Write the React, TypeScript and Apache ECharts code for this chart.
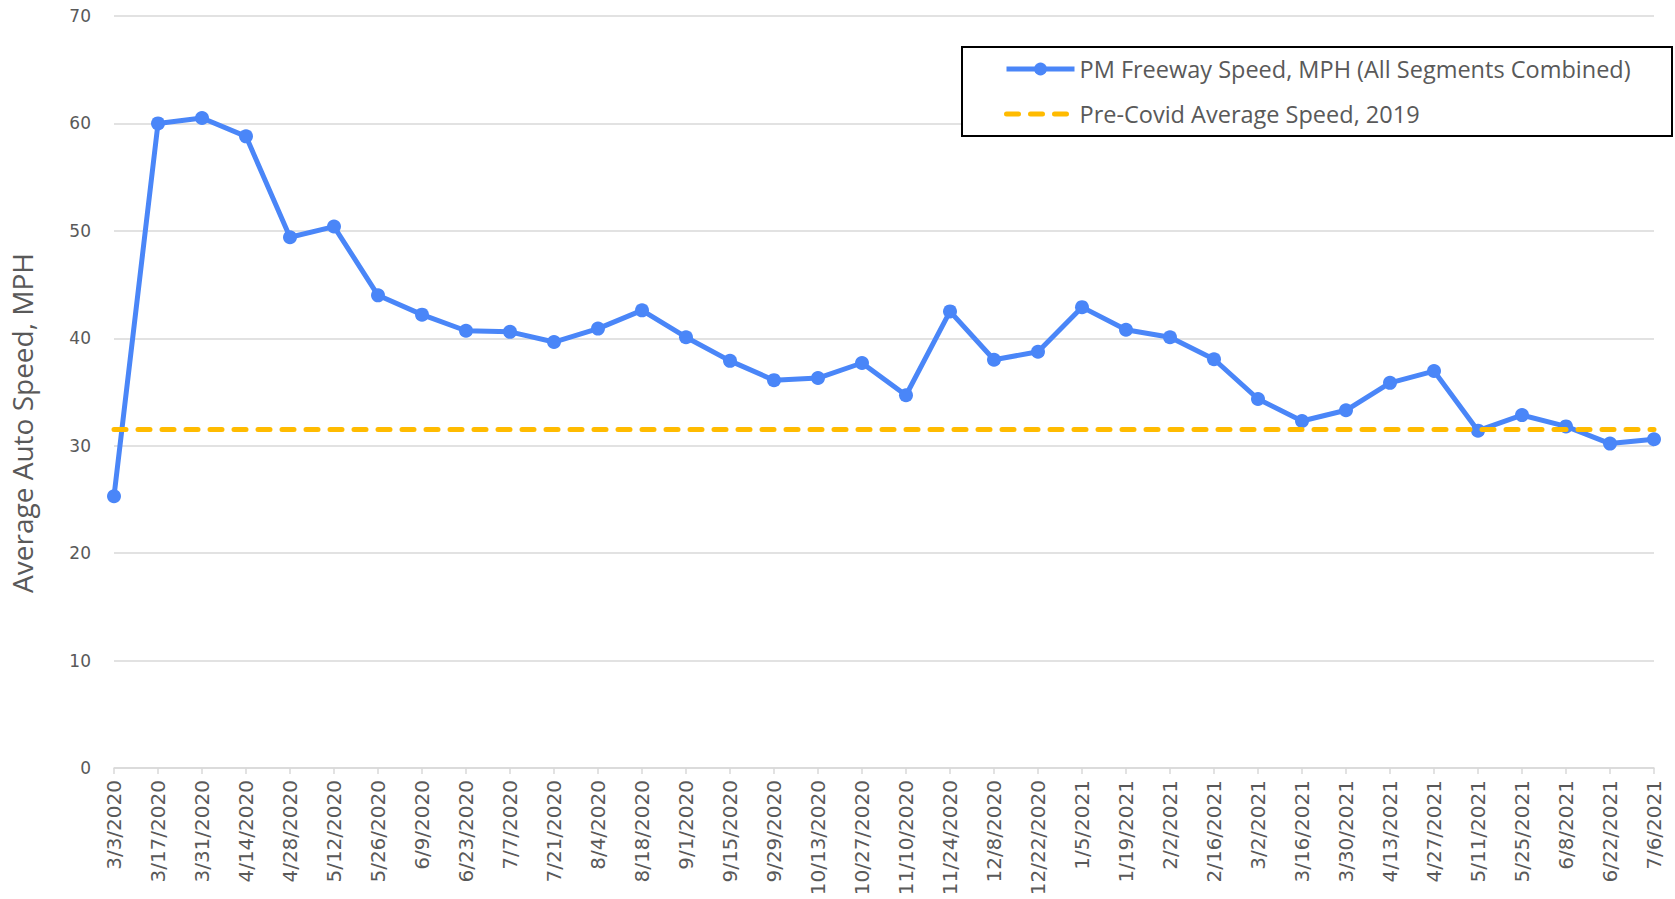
import React, { useEffect, useRef } from "react";
import * as echarts from "echarts";

const categories = [
  "3/3/2020", "3/17/2020", "3/31/2020", "4/14/2020", "4/28/2020", "5/12/2020",
  "5/26/2020", "6/9/2020", "6/23/2020", "7/7/2020", "7/21/2020", "8/4/2020",
  "8/18/2020", "9/1/2020", "9/15/2020", "9/29/2020", "10/13/2020", "10/27/2020",
  "11/10/2020", "11/24/2020", "12/8/2020", "12/22/2020", "1/5/2021", "1/19/2021",
  "2/2/2021", "2/16/2021", "3/2/2021", "3/16/2021", "3/30/2021", "4/13/2021",
  "4/27/2021", "5/11/2021", "5/25/2021", "6/8/2021", "6/22/2021", "7/6/2021",
];

const pmSpeed = [
  25.3, 60.0, 60.5, 58.8, 49.4, 50.4, 44.0, 42.2, 40.7, 40.6, 39.65, 40.9,
  42.6, 40.1, 37.9, 36.1, 36.3, 37.7, 34.7, 42.5, 38.0, 38.75, 42.9, 40.8,
  40.1, 38.05, 34.35, 32.3, 33.3, 35.85, 36.95, 31.4, 32.85, 31.8, 30.2, 30.6,
];

const preCovidAverage = 31.5;
const preCovidSeries = categories.map(() => preCovidAverage);

const yTicks = { min: 0, max: 70, interval: 10 };

const Y_TITLE = "Average Auto Speed, MPH";
const SERIES_A = "PM Freeway Speed, MPH (All Segments Combined)";
const SERIES_B = "Pre-Covid Average Speed, 2019";

const BLUE = "#4A86F8";
const GOLD = "#FFBB00";

export default function App() {
  const ref = useRef<HTMLDivElement>(null);
  useEffect(() => {
    if (!ref.current) return;
    const chart = echarts.init(ref.current, null, { renderer: "svg" });
    const legendText = { fontFamily: "Open Sans", fontSize: 23.5, color: "#595959" };
    chart.setOption({
      animation: false,
      backgroundColor: "#ffffff",
      grid: {
        left: 114,
        right: 21,
        top: 16,
        bottom: 131,
        containLabel: false,
        outerBoundsMode: "none",
      },
      graphic: [
        {
          type: "rect",
          shape: { x: 962, y: 47, width: 710, height: 89 },
          style: { fill: "#ffffff", stroke: "#000000", lineWidth: 2 },
          z: 5,
        },
        {
          type: "text",
          x: 22,
          y: 423,
          rotation: Math.PI / 2,
          style: {
            text: Y_TITLE,
            fontFamily: "Open Sans",
            fontSize: 28,
            fill: "#595959",
            align: "center",
            verticalAlign: "middle",
          },
          z: 5,
        },
      ],
      legend: [
        {
          data: [SERIES_A],
          left: 1004,
          top: 57,
          itemWidth: 68,
          itemHeight: 16,
          itemGap: 8,
          padding: 0,
          lineStyle: { width: 5 },
          textStyle: legendText,
          z: 10,
        },
        {
          data: [SERIES_B],
          left: 1004,
          top: 102,
          itemWidth: 68,
          itemHeight: 16,
          padding: 0,
          lineStyle: { width: 5, type: [12, 12], cap: "round" },
          itemStyle: { opacity: 0 },
          textStyle: legendText,
          z: 10,
        },
      ],
      xAxis: {
        type: "category",
        data: categories,
        boundaryGap: false,
        axisLine: { show: true, lineStyle: { color: "#D9D9D9", width: 1.5 } },
        axisTick: { show: true, length: 6, lineStyle: { color: "#D9D9D9", width: 1.5 } },
        axisLabel: {
          rotate: 90,
          interval: 0,
          margin: 12,
          fontFamily: "DejaVu Sans",
          fontSize: 20,
          color: "#595959",
        },
        splitLine: { show: false },
      },
      yAxis: {
        type: "value",
        min: yTicks.min,
        max: yTicks.max,
        interval: yTicks.interval,
        axisLine: { show: false },
        axisTick: { show: false },
        axisLabel: {
          margin: 23,
          fontFamily: "DejaVu Sans",
          fontSize: 17,
          color: "#595959",
        },
        splitLine: { lineStyle: { color: "#D9D9D9", width: 1.5 } },
      },
      series: [
        {
          name: SERIES_A,
          type: "line",
          data: pmSpeed,
          symbol: "circle",
          symbolSize: 14,
          lineStyle: { color: BLUE, width: 5 },
          itemStyle: { color: BLUE },
          z: 3,
        },
        {
          name: SERIES_B,
          type: "line",
          data: preCovidSeries,
          symbol: "none",
          lineStyle: { color: GOLD, width: 5, type: [12, 12], cap: "round" },
          itemStyle: { color: GOLD },
          z: 4,
        },
      ],
    });
    return () => chart.dispose();
  }, []);
  return (
    <div
      ref={ref}
      style={{ position: "fixed", left: 0, top: 0, width: 1675, height: 899 }}
    />
  );
}
